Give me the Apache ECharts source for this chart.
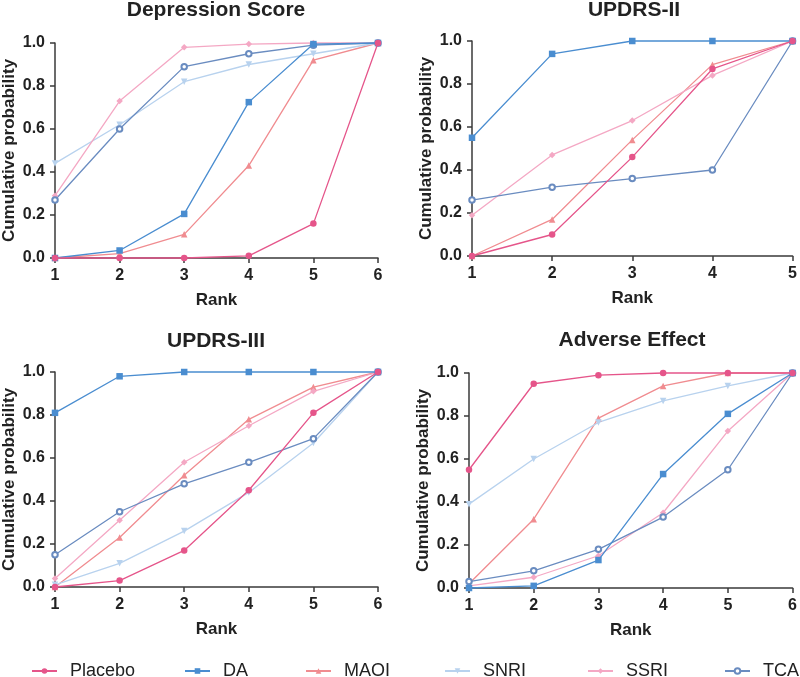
<!DOCTYPE html>
<html>
<head>
<meta charset="utf-8">
<script src="https://cdn.jsdelivr.net/npm/echarts@6/dist/echarts.min.js"></script>
<style>
html,body{margin:0;padding:0;background:#fff;}
#chart{width:800px;height:677px;}
</style>
</head>
<body>
<div id="chart"></div>
<script>
// ---- data ----
var seriesNames = ['Placebo', 'DA', 'MAOI', 'SNRI', 'SSRI', 'TCA'];
var panelTitles = ['Depression Score', 'UPDRS-II', 'UPDRS-III', 'Adverse Effect'];
var yTicks = [0, 0.2, 0.4, 0.6, 0.8, 1.0];

var ranks6 = [1, 2, 3, 4, 5, 6];
var ranks5 = [1, 2, 3, 4, 5];

// Depression Score
var depPlacebo = [0, 0, 0, 0.01, 0.16, 1.0];
var depDA      = [0, 0.035, 0.205, 0.725, 0.995, 1.0];
var depMAOI    = [0, 0.02, 0.11, 0.43, 0.92, 1.0];
var depSNRI    = [0.44, 0.62, 0.82, 0.90, 0.95, 1.0];
var depSSRI    = [0.29, 0.73, 0.98, 0.995, 1.0, 1.0];
var depTCA     = [0.27, 0.60, 0.89, 0.95, 0.99, 1.0];

// UPDRS-II (no SNRI)
var u2Placebo = [0, 0.10, 0.46, 0.87, 1.0];
var u2DA      = [0.55, 0.94, 1.0, 1.0, 1.0];
var u2MAOI    = [0, 0.17, 0.54, 0.89, 1.0];
var u2SSRI    = [0.19, 0.47, 0.63, 0.84, 1.0];
var u2TCA     = [0.26, 0.32, 0.36, 0.40, 1.0];

// UPDRS-III
var u3Placebo = [0, 0.03, 0.17, 0.45, 0.81, 1.0];
var u3DA      = [0.81, 0.98, 1.0, 1.0, 1.0, 1.0];
var u3MAOI    = [0, 0.23, 0.52, 0.78, 0.93, 1.0];
var u3SNRI    = [0.01, 0.11, 0.26, 0.44, 0.67, 1.0];
var u3SSRI    = [0.04, 0.31, 0.58, 0.75, 0.91, 1.0];
var u3TCA     = [0.15, 0.35, 0.48, 0.58, 0.69, 1.0];

// Adverse Effect
var aePlacebo = [0.55, 0.95, 0.99, 1.0, 1.0, 1.0];
var aeDA      = [0, 0.01, 0.13, 0.53, 0.81, 1.0];
var aeMAOI    = [0.02, 0.32, 0.79, 0.94, 1.0, 1.0];
var aeSNRI    = [0.39, 0.60, 0.77, 0.87, 0.94, 1.0];
var aeSSRI    = [0.01, 0.05, 0.15, 0.35, 0.73, 1.0];
var aeTCA     = [0.03, 0.08, 0.18, 0.33, 0.55, 1.0];

// ---- styles ----
var FONT = '"Liberation Sans", Arial, Helvetica, sans-serif';
var styleMap = {
  'Placebo': {color: '#e5558a', symbol: 'circle', size: 6.5},
  'DA':      {color: '#4a8dd0', symbol: 'rect', size: 6.5},
  'MAOI':    {color: '#f08c90', symbol: 'triangle', size: 6.5},
  'SNRI':    {color: '#b8d2ee', symbol: 'path://M0,0 L10,0 L5,9 Z', size: 6.5},
  'SSRI':    {color: '#f4a8c4', symbol: 'diamond', size: 6.5},
  'TCA':     {color: '#6a8cc0', symbol: 'emptyCircle', size: 5.5}
};

var panels = [
  {x: ranks6, max: 6, data: {Placebo: depPlacebo, DA: depDA, MAOI: depMAOI, SNRI: depSNRI, SSRI: depSSRI, TCA: depTCA}},
  {x: ranks5, max: 5, data: {Placebo: u2Placebo, DA: u2DA, MAOI: u2MAOI, SSRI: u2SSRI, TCA: u2TCA}},
  {x: ranks6, max: 6, data: {Placebo: u3Placebo, DA: u3DA, MAOI: u3MAOI, SNRI: u3SNRI, SSRI: u3SSRI, TCA: u3TCA}},
  {x: ranks6, max: 6, data: {Placebo: aePlacebo, DA: aeDA, MAOI: aeMAOI, SNRI: aeSNRI, SSRI: aeSSRI, TCA: aeTCA}}
];

var grids = [
  {left: 54, top: 43, width: 324, height: 215},
  {left: 472, top: 41, width: 324, height: 215},
  {left: 54, top: 372, width: 324, height: 215},
  {left: 469, top: 373, width: 324, height: 215}
];
var titlePos = [
  {x: 216, y: 0}, {x: 634, y: 0}, {x: 216, y: 331}, {x: 632, y: 330}
];
var legendLeft = [31, 184, 305, 444, 587, 724];

var axisColor = '#3a3a3a';
var textColor = '#222';

var xAxes = [], yAxes = [], series = [], titles = [], legends = [];
panels.forEach(function (p, i) {
  titles.push({
    text: panelTitles[i], left: titlePos[i].x, top: titlePos[i].y, textAlign: 'center', padding: 0,
    textStyle: {fontFamily: FONT, fontSize: 21, fontWeight: 'bold', color: textColor}
  });
  xAxes.push({
    type: 'value', gridIndex: i, min: 1, max: p.max, interval: 1,
    name: 'Rank', nameLocation: 'middle', nameGap: 34,
    nameTextStyle: {fontFamily: FONT, fontSize: 17, fontWeight: 'bold', color: textColor},
    axisLine: {show: true, lineStyle: {color: axisColor, width: 1.5}},
    axisTick: {show: true, length: 5, lineStyle: {color: axisColor, width: 1.5}},
    axisLabel: {fontFamily: FONT, fontSize: 16, fontWeight: 'bold', color: textColor, margin: 10},
    splitLine: {show: false}
  });
  yAxes.push({
    type: 'value', gridIndex: i, min: 0, max: 1, interval: 0.2,
    name: 'Cumulative probability', nameLocation: 'middle', nameGap: 37,
    nameTextStyle: {fontFamily: FONT, fontSize: 17, fontWeight: 'bold', color: textColor},
    axisLine: {show: true, lineStyle: {color: axisColor, width: 1.5}},
    axisTick: {show: true, length: 5, lineStyle: {color: axisColor, width: 1.5}},
    axisLabel: {fontFamily: FONT, fontSize: 16, fontWeight: 'bold', color: textColor, margin: 10,
      formatter: function (v) { return v.toFixed(1); }},
    splitLine: {show: false}
  });
  seriesNames.forEach(function (name, k) {
    var vals = p.data[name];
    if (!vals) return;
    var st = styleMap[name];
    series.push({
      name: name, type: 'line', xAxisIndex: i, yAxisIndex: i,
      data: p.x.map(function (xv, j) { return [xv, vals[j]]; }),
      symbol: st.symbol, symbolSize: st.size, showSymbol: true,
      clip: false,
      lineStyle: {color: st.color, width: 1.3},
      itemStyle: {color: st.color, borderColor: st.color, borderWidth: st.symbol === 'emptyCircle' ? 1 : 0},
      z: name === 'Placebo' ? 4 : (name === 'DA' ? 3 : 2),
      animation: false
    });
  });
});

seriesNames.forEach(function (name, k) {
  legends.push({
    data: [name], left: legendLeft[k], top: 662, padding: 0,
    itemWidth: 25, itemHeight: 7,
    textStyle: {fontFamily: FONT, fontSize: 18, color: '#222', padding: [0, 0, 0, 8]},
    selectedMode: false
  });
});

var chart = echarts.init(document.getElementById('chart'), null, {renderer: 'canvas'});
chart.setOption({
  backgroundColor: '#ffffff',
  animation: false,
  title: titles,
  legend: legends,
  grid: grids,
  xAxis: xAxes,
  yAxis: yAxes,
  series: series
});
</script>
</body>
</html>
